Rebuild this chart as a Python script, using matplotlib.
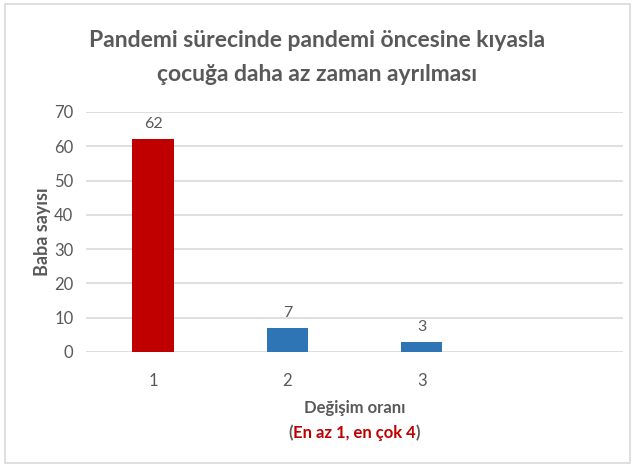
import matplotlib
matplotlib.use("Agg")
import matplotlib.pyplot as plt
from matplotlib.patches import Rectangle

plt.rcParams['font.family'] = ['Lato', 'DejaVu Sans']

# change rate categories (4 slots, only the first three used) and counts
categories = ['1', '2', '3', '']
counts = [62, 7, 3, None]
bar_colors = ['#C00000', '#2E75B6', '#2E75B6', '#2E75B6']
y_ticks = [0, 10, 20, 30, 40, 50, 60, 70]

title = 'Pandemi sürecinde pandemi öncesine kıyasla\nçocuğa daha az zaman ayrılması'
y_label = 'Baba sayısı'
x_label = 'Değişim oranı'
x_note = 'En az 1, en çok 4'

gray = '#595959'

fig = plt.figure(figsize=(6.35, 4.67), dpi=100)
fig.patch.set_facecolor('white')
fig.patches.append(Rectangle((0.008, 0.008), 0.984, 0.984, transform=fig.transFigure,
                             fill=False, edgecolor='#D9D9D9', linewidth=1.2))

ax = fig.add_axes([0.1354, 0.2463, 0.8457, 0.514])

xs = list(range(len(categories)))
for x, v, c in zip(xs, counts, bar_colors):
    if v is None:
        continue
    ax.bar(x, v, width=0.31, color=c, zorder=3)
    ax.text(x, v + 2.3, str(v), ha='center', va='bottom', fontsize=11.5, color=gray)

ax.set_xlim(-0.5, len(categories) - 0.5)
ax.set_ylim(0, 70)
ax.set_yticks(y_ticks)
ax.set_xticks(xs)
ax.set_xticklabels(categories)
ax.tick_params(axis='both', length=0, labelsize=12, labelcolor=gray)
ax.tick_params(axis='y', pad=9)
ax.tick_params(axis='x', pad=15)
ax.grid(axis='y', color='#D9D9D9', linewidth=1.2, zorder=0)
for s in ax.spines.values():
    s.set_visible(False)

ax.set_ylabel(y_label, fontsize=13, fontweight='bold', color=gray, labelpad=2)

fig.text(0.5, 0.877, title, ha='center', va='center', fontsize=16.5,
         fontweight='bold', color=gray, linespacing=1.75)

cx = (0.1354 + 0.1354 + 0.8457) / 2
fig.text(cx, 0.126, x_label, ha='center', va='center', fontsize=12,
         fontweight='bold', color=gray)
note = fig.text(cx, 0.072, x_note, ha='center', va='center', fontsize=12,
                fontweight='bold', color='#C00000')
ax.annotate('(', xy=(0, 0.5), xycoords=note, ha='right', va='center',
            fontsize=12, fontweight='bold', color=gray)
ax.annotate(')', xy=(1, 0.5), xycoords=note, ha='left', va='center',
            fontsize=12, fontweight='bold', color=gray)

fig.savefig('out.png', dpi=100)
